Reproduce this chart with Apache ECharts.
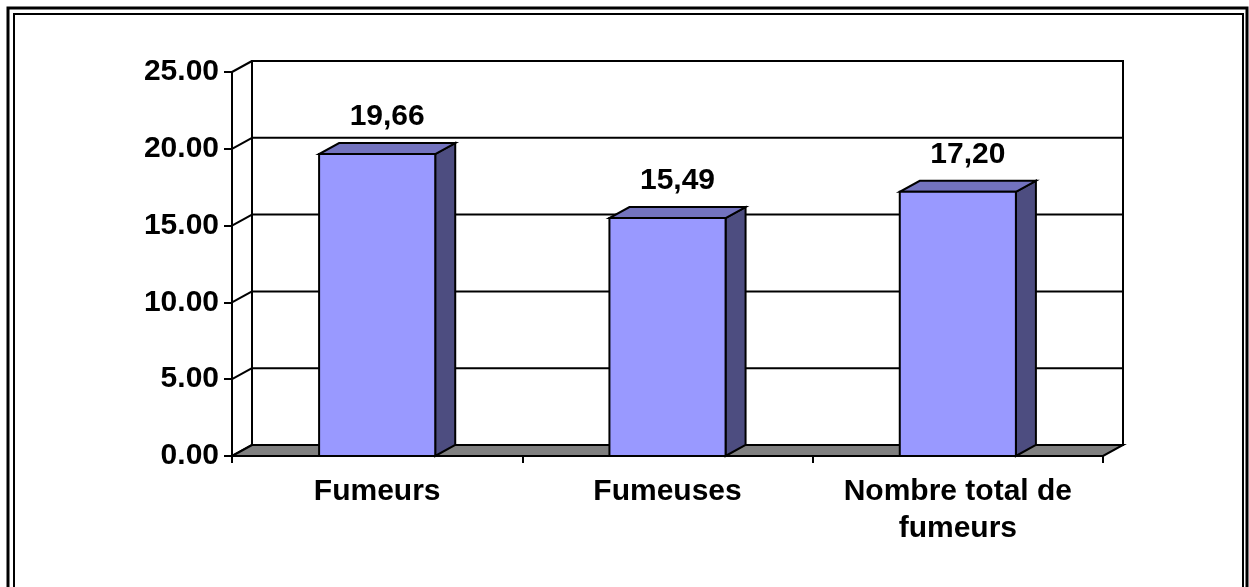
<!DOCTYPE html>
<html>
<head>
<meta charset="utf-8">
<script src="https://cdn.jsdelivr.net/npm/echarts@6/dist/echarts.min.js"></script>
<style>
  html, body { margin: 0; padding: 0; background: #fff; }
  #chart { width: 1249px; height: 587px; }
</style>
</head>
<body>
<div id="chart"></div>
<script>
// Smoking prevalence (%), by group
const categories = ['Fumeurs', 'Fumeuses', 'Nombre total de\nfumeurs'];
const values = [19.66, 15.49, 17.20];
const yTicks = [0, 5, 10, 15, 20, 25];

// Pseudo-3D projection: offset from the front plane to the back wall
const DX = 20;
const DY = -11;
const BAR_RATIO = 0.4;
const FONT = "'Liberation Sans', Arial, Helvetica, sans-serif";

const chart = echarts.init(document.getElementById('chart'), null, { renderer: 'canvas' });

// Back wall, side-wall gridlines and floor, all placed through the axes
function renderFrame(params, api) {
  const cs = params.coordSys;
  const left = cs.x, right = cs.x + cs.width;
  const children = [];
  const yTop = api.coord([0, yTicks[yTicks.length - 1]])[1];
  const yBase = api.coord([0, yTicks[0]])[1];

  // back wall
  children.push({
    type: 'rect',
    shape: { x: left + DX, y: yTop + DY, width: right - left, height: yBase - yTop },
    style: { fill: '#ffffff', stroke: '#000', lineWidth: 2 }
  });
  // gridlines on the back wall and their diagonals on the side wall
  yTicks.forEach(function (t) {
    const y = api.coord([0, t])[1];
    if (t !== yTicks[0]) {
      children.push({
        type: 'line',
        shape: { x1: left + DX, y1: y + DY, x2: right + DX, y2: y + DY },
        style: { stroke: '#000', lineWidth: 2 }
      });
    }
    children.push({
      type: 'line',
      shape: { x1: left, y1: y, x2: left + DX, y2: y + DY },
      style: { stroke: '#000', lineWidth: 2 }
    });
  });
  // floor
  children.push({
    type: 'polygon',
    shape: { points: [[left, yBase], [right, yBase], [right + DX, yBase + DY], [left + DX, yBase + DY]] },
    style: { fill: '#808080', stroke: '#000', lineWidth: 2, lineJoin: 'miter' }
  });
  return { type: 'group', children: children };
}

// Prism-shaped bars with their value label
function renderBar(params, api) {
  const idx = api.value(0);
  const v = api.value(1);
  const base = api.coord([idx, 0]);
  const top = api.coord([idx, v]);
  const bw = api.size([1, 0])[0] * BAR_RATIO;
  const x0 = top[0] - bw / 2, x1 = top[0] + bw / 2;
  const y0 = base[1], y1 = top[1];
  const edge = { stroke: '#000', lineWidth: 2, lineJoin: 'miter' };
  return {
    type: 'group',
    children: [
      {
        type: 'polygon',
        shape: { points: [[x1, y0], [x1, y1], [x1 + DX, y1 + DY], [x1 + DX, y0 + DY]] },
        style: Object.assign({ fill: '#4d4d80' }, edge)
      },
      {
        type: 'polygon',
        shape: { points: [[x0, y1], [x1, y1], [x1 + DX, y1 + DY], [x0 + DX, y1 + DY]] },
        style: Object.assign({ fill: '#7373bf' }, edge)
      },
      {
        type: 'rect',
        shape: { x: x0, y: y1, width: x1 - x0, height: y0 - y1 },
        style: Object.assign({ fill: '#9999ff' }, edge)
      },
      {
        type: 'text',
        style: {
          text: v.toFixed(2).replace('.', ','),
          x: (x0 + x1) / 2 + DX / 2,
          y: y1 + DY - 26,
          align: 'center',
          verticalAlign: 'middle',
          font: 'bold 30px ' + FONT,
          fill: '#000'
        }
      }
    ]
  };
}

const option = {
  animation: false,
  backgroundColor: '#ffffff',
  graphic: [
    {
      type: 'rect', silent: true, z: 100,
      shape: { x: 8, y: 8, width: 1239, height: 620 },
      style: { fill: 'none', stroke: '#000', lineWidth: 3 }
    },
    {
      type: 'rect', silent: true, z: 100,
      shape: { x: 14, y: 14, width: 1229, height: 620 },
      style: { fill: 'none', stroke: '#000', lineWidth: 2 }
    }
  ],
  grid: { left: 232, right: 146, top: 72, bottom: 131, containLabel: false },
  xAxis: {
    type: 'category',
    data: categories,
    boundaryGap: true,
    z: 10,
    axisLine: { show: true, lineStyle: { color: '#000', width: 2 } },
    axisTick: { show: true, length: 7, interval: 0, alignWithLabel: false, lineStyle: { color: '#000', width: 2 } },
    axisLabel: {
      interval: 0,
      margin: 17,
      color: '#000',
      fontFamily: FONT,
      fontWeight: 'bold',
      fontSize: 30,
      lineHeight: 37
    },
    splitLine: { show: false }
  },
  yAxis: {
    type: 'value',
    min: 0,
    max: 25,
    interval: 5,
    z: 10,
    axisLine: { show: true, lineStyle: { color: '#000', width: 2 } },
    axisTick: { show: true, length: 8, lineStyle: { color: '#000', width: 2 } },
    axisLabel: {
      margin: 13,
      color: '#000',
      fontFamily: FONT,
      fontWeight: 'bold',
      fontSize: 30,
      formatter: function (v) { return v.toFixed(2); }
    },
    splitLine: { show: false }
  },
  series: [
    {
      type: 'custom',
      name: 'frame',
      renderItem: renderFrame,
      data: [[0, 0]],
      z: 1,
      silent: true,
      clip: false
    },
    {
      type: 'custom',
      name: 'values',
      renderItem: renderBar,
      data: categories.map(function (c, i) { return [i, values[i]]; }),
      encode: { x: 0, y: 1 },
      z: 2,
      silent: true,
      clip: false
    }
  ]
};

chart.setOption(option);
</script>
</body>
</html>
